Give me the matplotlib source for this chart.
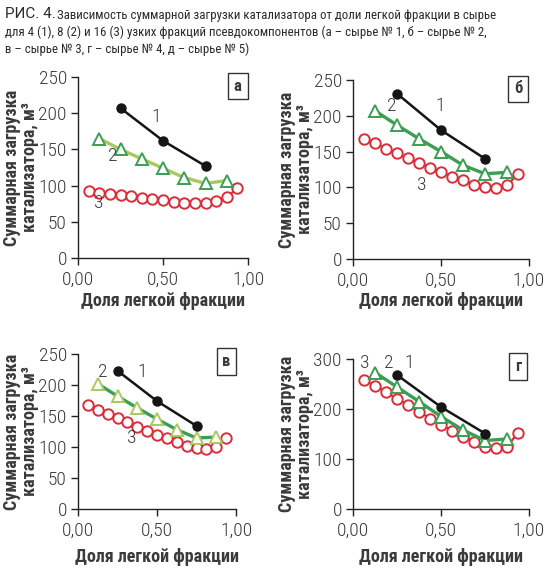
import matplotlib
matplotlib.use("Agg")
import matplotlib.pyplot as plt

COND = ['Roboto Condensed', 'DejaVu Sans']
plt.rcParams['font.family'] = COND

# ---- data ----
x1 = [0.25, 0.50, 0.75]
x2 = [0.125, 0.25, 0.375, 0.50, 0.625, 0.75, 0.875]
x3 = [0.0625, 0.125, 0.1875, 0.25, 0.3125, 0.375, 0.4375, 0.50,
      0.5625, 0.625, 0.6875, 0.75, 0.8125, 0.875, 0.9375]

a_y1 = [207, 162, 127]
a_y2 = [165, 150, 137, 124, 111, 103, 107]
a_y3 = [93, 90, 88, 87, 85, 83.5, 82, 80, 78, 76.5, 75.5, 76.5, 78.5, 84.5, 96]

b_y1 = [231, 180, 140]
b_y2 = [207, 187, 168, 150, 131, 119, 121]
b_y3 = [168, 161.5, 154, 147.5, 140.5, 134.5, 127.5, 121.5, 115, 110, 104, 100.5, 99.5, 103, 118.5]

v_y1 = [223, 174, 134]
v_y2 = [202, 182, 163, 145, 128, 114.5, 116]
v_y3 = [167, 160, 154, 147, 140, 133, 126, 120, 114, 108, 102, 98, 96, 99.5, 114.5]

g_y1 = [268, 204, 151]
g_y2 = [273, 244, 215, 185, 158, 137, 140]
g_y3 = [258, 246, 234, 220, 208, 195, 181, 168, 157, 145, 135, 125, 122, 124, 153]

x_ticks = [0.0, 0.5, 1.0]
x_ticklabels = ["0,00", "0,50", "1,00"]
title_head = "РИС. 4."
title_lines = ["Зависимость суммарной загрузки катализатора от доли легкой фракции в сырье",
               "для 4 (1), 8 (2) и 16 (3) узких фракций псевдокомпонентов (а – сырье № 1, б – сырье № 2,",
               "в – сырье № 3, г – сырье № 4, д – сырье № 5)"]
xlabel = "Доля легкой фракции"
ylabel = "Суммарная загрузка\nкатализатора, м³"

W, H = 554, 574
fig = plt.figure(figsize=(W / 100, H / 100), dpi=100)

def px_axes(l, r, t, b):
    return fig.add_axes([l / W, 1 - b / H, (r - l) / W, (b - t) / H])

BLACK = "#151515"
RED = "#d92d3a"
GREEN = "#3b9e52"
LGREEN = "#a9c95e"
TXT = "#3a3a3a"

panels = [
    dict(pos=(78, 248, 77, 258), ylim=(0, 250), yt=[0, 50, 100, 150, 200, 250],
         ys=(a_y1, a_y2, a_y3), line2=LGREEN, mk2=GREEN, letter="а",
         labels=[("1", 0.46, 195), ("2", 0.205, 141), ("3", 0.124, 76)], xlab_y=301),
    dict(pos=(353, 529, 80, 259), ylim=(0, 250), yt=[0, 50, 100, 150, 200, 250],
         ys=(b_y1, b_y2, b_y3), line2=GREEN, mk2=GREEN, letter="б",
         labels=[("1", 0.494, 214), ("2", 0.222, 214), ("3", 0.392, 103)], xlab_y=301),
    dict(pos=(78, 236, 354, 509), ylim=(0, 250), yt=[0, 50, 100, 150, 200, 250],
         ys=(v_y1, v_y2, v_y3), line2=GREEN, mk2=LGREEN, letter="в",
         labels=[("1", 0.405, 221), ("2", 0.158, 221), ("3", 0.342, 114)], xlab_y=557),
    dict(pos=(353, 529, 359, 509), ylim=(0, 300), yt=[0, 100, 200, 300],
         ys=(g_y1, g_y2, g_y3), line2=GREEN, mk2=GREEN, letter="г",
         labels=[("3", 0.068, 292), ("2", 0.205, 292), ("1", 0.318, 292)], xlab_y=557),
]

for p in panels:
    l, r, t, b = p["pos"]
    ax = px_axes(l, r, t, b)
    y1, y2, y3 = p["ys"]
    ax.plot(x3, y3, color=RED, lw=1.6, marker="o", ms=7.5, mfc="white",
            mec=RED, mew=1.4, zorder=2, clip_on=False)
    ax.plot(x2, y2, color=p["line2"], lw=2.4, marker="^", ms=9, mfc="white",
            mec=p["mk2"], mew=1.4, zorder=3, clip_on=False)
    ax.plot(x1, y1, color=BLACK, lw=1.8, marker="o", ms=6.5, mfc=BLACK,
            mec=BLACK, zorder=4, clip_on=False)
    ax.set_xlim(0, 1)
    ax.set_ylim(*p["ylim"])
    ax.set_yticks(p["yt"])
    ax.set_xticks(x_ticks)
    ax.set_xticklabels(x_ticklabels)
    for s in ("top", "right"):
        ax.spines[s].set_visible(False)
    for s in ("left", "bottom"):
        ax.spines[s].set_color("#222222")
        ax.spines[s].set_linewidth(1.0)
    ax.tick_params(axis="both", direction="out", length=5, width=1.0,
                   colors="#222222", labelcolor=TXT, labelsize=14, pad=3)
    ax.tick_params(axis="x", pad=4)
    for tl in ax.get_xticklabels() + ax.get_yticklabels():
        tl.set_fontweight("light")
    for lab, lx, ly in p["labels"]:
        ax.text(lx, ly, lab, fontsize=14, color=TXT, ha="center", va="center",
                fontweight="light")
    ax.text(0.94, 0.95, p["letter"], transform=ax.transAxes, fontsize=12,
            fontweight="bold", color=TXT, ha="center", va="center",
            bbox=dict(boxstyle="square,pad=0.35", fc="white", ec="#333333", lw=1.0))
    cx = (l + r) / 2 / W
    fig.text(cx, 1 - p["xlab_y"] / H, xlabel, fontsize=13, fontweight="bold",
             color=TXT, ha="center", va="center")
    fig.text((l - 57) / W, 1 - ((t + b) / 2) / H, ylabel, fontsize=13,
             fontweight="bold", color=TXT, ha="center", va="center",
             rotation=90, linespacing=1.0)

fig.text(5 / W, 1 - 14 / H, title_head, fontsize=11, color="#2a2a2a",
         ha="left", va="center", family=['Roboto', 'DejaVu Sans'])
fig.text(57 / W, 1 - 15 / H, title_lines[0], fontsize=9.3,
         color="#2a2a2a", ha="left", va="center")
fig.text(5 / W, 1 - 32 / H, title_lines[1], fontsize=9.3,
         color="#2a2a2a", ha="left", va="center")
fig.text(5 / W, 1 - 49 / H, title_lines[2], fontsize=9.3,
         color="#2a2a2a", ha="left", va="center")

fig.savefig("out.png", dpi=100, facecolor="white")
